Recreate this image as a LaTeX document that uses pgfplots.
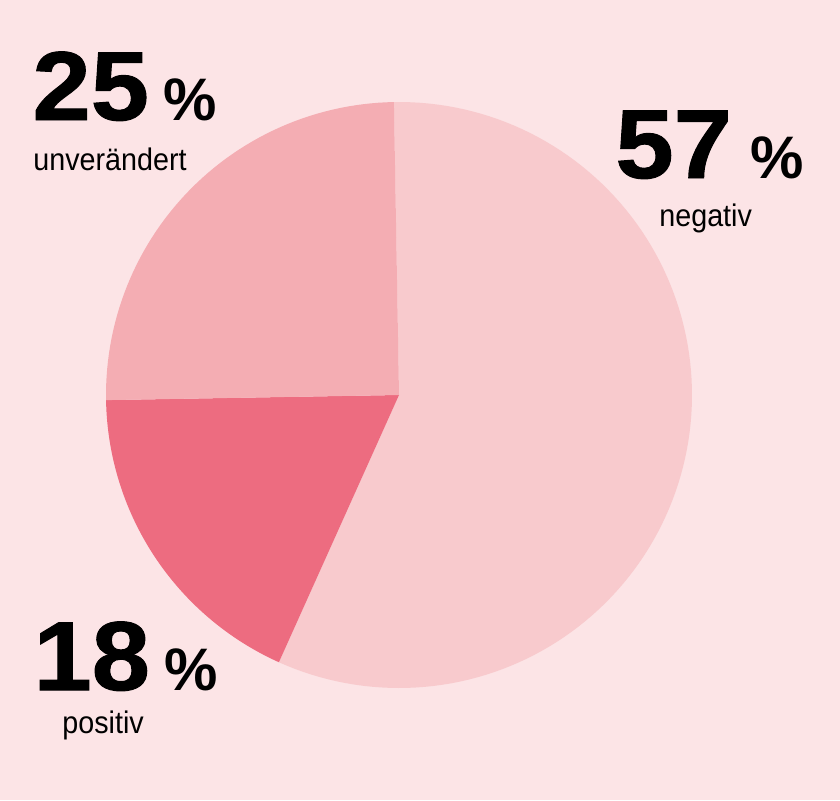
\documentclass[border=0pt]{standalone}
\usepackage{pgfplots}
\pgfplotsset{compat=1.18}
\usepackage{fontspec}
\setmainfont{Liberation Sans}
\newfontfamily\numfont{Liberation Sans}[FakeStretch=1.07,FakeBold=1.0]
\newfontfamily\labfont{Liberation Sans}[FakeStretch=0.92]
\definecolor{bg}{HTML}{FCE4E6}
\definecolor{cneg}{HTML}{F8CACD}
\definecolor{cunv}{HTML}{F4ADB3}
\definecolor{cpos}{HTML}{ED6C80}
% data (percent)
\def\vneg{57}
\def\vpos{18}
\def\vunv{25}
\pgfmathsetmacro{\aStart}{91}
\pgfmathsetmacro{\aNeg}{\aStart-3.6*\vneg}
\pgfmathsetmacro{\aPos}{\aNeg-3.6*\vpos}
\pgfmathsetmacro{\aUnv}{\aPos-3.6*\vunv}
\newcommand{\bignum}[1]{{\numfont\bfseries\fontsize{49}{49}\selectfont #1}}
\newcommand{\pct}{{\fontsize{30}{30}\selectfont\bfseries\%}}
\newcommand{\lab}[1]{{\labfont\fontsize{15.6}{15.6}\selectfont #1}}
\begin{document}
\begin{tikzpicture}
\begin{axis}[
  scale only axis, width=420pt, height=400pt,
  xmin=0, xmax=840, ymin=0, ymax=800,
  axis lines=none, clip=false,
]
\addplot[fill=bg, draw=none] coordinates {(0,0) (840,0) (840,800) (0,800)} -- cycle;
% slices
\addplot[fill=cneg, draw=none, domain=\aNeg:\aStart, samples=120, variable=\t]
  ({399+293*cos(\t)},{405+293*sin(\t)}) -- (axis cs:399,405) -- cycle;
\addplot[fill=cpos, draw=none, domain=\aPos:\aNeg, samples=60, variable=\t]
  ({399+293*cos(\t)},{405+293*sin(\t)}) -- (axis cs:399,405) -- cycle;
\addplot[fill=cunv, draw=none, domain=\aUnv:\aPos, samples=60, variable=\t]
  ({399+293*cos(\t)},{405+293*sin(\t)}) -- (axis cs:399,405) -- cycle;
% labels
\tikzset{bn/.style={anchor=base west, inner sep=0pt, text depth=0pt},
         lb/.style={anchor=base west, inner sep=0pt, text height=11.5pt}}
\node[bn] (u) at (axis cs:32,680) {\bignum{\vunv}};
\node[bn] at ([xshift=7pt]u.base east) {\pct};
\node[lb] at (axis cs:33,630) {\lab{unverändert}};
\node[bn] (n) at (axis cs:615,622) {\bignum{\vneg}};
\node[bn] at ([xshift=9pt]n.base east) {\pct};
\node[lb] at (axis cs:659,574) {\lab{negativ}};
\node[bn] (p) at (axis cs:33,110) {\bignum{\vpos}};
\node[bn] at ([xshift=7pt]p.base east) {\pct};
\node[lb] at (axis cs:62,67) {\lab{positiv}};
\end{axis}
\end{tikzpicture}
\end{document}
